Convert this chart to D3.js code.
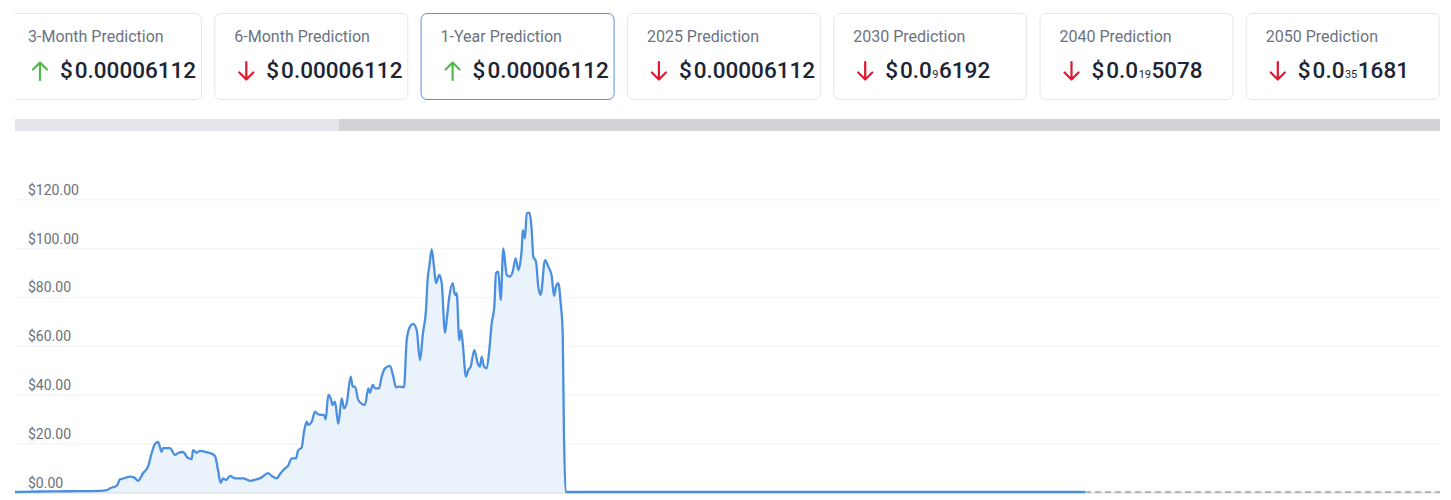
<!DOCTYPE html>
<html>
<head>
<meta charset="utf-8">
<script src="https://cdn.jsdelivr.net/npm/d3@7"></script>
<style>
  html, body { margin: 0; padding: 0; background: #ffffff; }
  svg { display: block; font-family: Roboto, "Noto Sans", sans-serif; }
</style>
</head>
<body>
<svg id="chart" width="1451" height="500"></svg>
<script>
// ---------- data ----------
const cardLabels = ["3-Month Prediction", "6-Month Prediction", "1-Year Prediction", "2025 Prediction", "2030 Prediction", "2040 Prediction", "2050 Prediction"];
const cardDirections = ["up", "down", "up", "down", "down", "down", "down"];
// {n} marks a subscript count of zeros
const cardValues = ["0.00006112", "0.00006112", "0.00006112", "0.00006112", "0.0{9}6192", "0.0{19}5078", "0.0{35}1681"];
const selectedCard = 2;

const yTicks = [0, 20, 40, 60, 80, 100, 120];

const startDate = new Date(2020, 9, 15);
const spanDays = 1425;

// [day offset from startDate, price USD]
const priceHistory = [
  [0,0.0],[25,0.2],[55,0.3],[85,0.5],[92,0.8],[95,1.5],[98,2.0],[101.7,2.5],[105,5.2],[108,5.5],
  [111.7,6.0],[115,6.3],[119,6.0],[123,4.6],[128,7.7],[133,10.4],[136.7,16.0],[140,19.7],[143,20.5],[146.7,16.5],
  [148,18.0],[155,18.0],[160,15.2],[163,16.0],[168,16.4],[173,13.9],[176.7,13.5],[178,17.2],[181.7,16.1],[185,16.9],
  [190,16.5],[195,16.0],[200,14.8],[203,9.0],[205.7,3.8],[208,5.6],[211,4.9],[215,6.6],[220,5.6],[228,5.6],
  [235,4.6],[241.7,5.2],[246.7,6.0],[253,7.7],[256.7,6.6],[261.7,5.6],[265,7.4],[270,9.7],[273,10.7],[276.7,13.8],
  [281,13.8],[283,16.9],[286.7,18.3],[289,24.7],[291.7,28.8],[293,27.5],[296.7,28.8],[300,32.9],[301.7,32.3],[305,31.6],
  [309,31.6],[310.7,29.8],[313.3,39.8],[315.7,38.4],[317.7,35.7],[320,37.0],[323.3,27.9],[326.7,38.4],[329,34.3],[331.7,36.4],
  [335.7,47.3],[337.7,43.2],[340,43.2],[343.3,37.7],[350,35.7],[353.3,42.5],[355,40.7],[357.7,43.9],[360,42.5],[364,42.5],
  [366.7,47.3],[370,50.7],[375,51.7],[378.3,47.3],[381,42.9],[384.3,43.2],[389,42.9],[391.7,62.3],[395,67.8],[398,68.9],
  [401.7,66.4],[405,54.1],[408,65.2],[411,74.6],[412.7,87.6],[414.3,92.4],[416.7,99.5],[419,92.4],[421,85.6],[424.3,89.0],
  [426.7,85.6],[430,65.3],[431.7,70.5],[434.3,80.1],[437.7,85.6],[440,80.8],[441.7,81.5],[444.3,62.3],[446,66.4],[447.7,61.0],
  [451,47.3],[453.3,50.0],[455.7,51.4],[459.3,58.2],[462.7,52.8],[465,51.4],[466.7,55.5],[469,51.4],[471.7,50.7],[474.3,58.2],
  [476.7,69.2],[479.3,76.0],[481,89.7],[483.3,90.3],[485.7,78.7],[488.3,99.9],[491.7,89.0],[495,88.3],[497.7,90.3],[500.7,95.8],
  [503.3,91.0],[506.7,99.2],[507.7,107.4],[510,104.0],[511.7,114.3],[514.3,114.5],[516.7,107.4],[518.3,96.5],[521,94.4],[523.3,84.2],
  [525.7,80.8],[530,95.1],[533.3,92.4],[536.7,88.6],[539,80.4],[541,84.2],[543.3,85.6],[545.7,77.4],[547.7,65.1],[549,22.7],
  [551,0.1],[552,0.0003],[800,0.0001],[1070,0.00006]
];
const pricePrediction = [[1070,0.00006],[1425,0.00006112]];

// ---------- layout ----------
const svg = d3.select("#chart");
const plotLeft = 15, plotRight = 1440, plotTop = 199.3, plotBottom = 492;

// cards
const cardX = d3.scaleLinear().domain([0, 1]).range([8, 214.3]);
const cardW = 193, cardTop = 13, cardH = 86;

svg.append("defs").append("clipPath").attr("id", "cardClip")
  .append("rect").attr("x", 15).attr("y", 0).attr("width", 1425).attr("height", 110);

const cardsG = svg.append("g").attr("clip-path", "url(#cardClip)");
const cards = cardsG.selectAll("g.card").data(cardLabels).join("g")
  .attr("class", "card")
  .attr("transform", (d, i) => `translate(${cardX(i)},${cardTop})`);

cards.append("rect")
  .attr("x", 0.5).attr("y", 0.5).attr("width", cardW).attr("height", cardH)
  .attr("rx", 6).attr("ry", 6)
  .attr("fill", "#ffffff")
  .attr("stroke", (d, i) => i === selectedCard ? "#5b8fd6" : "#e4e6ea")
  .attr("stroke-width", 1);

cards.append("text")
  .attr("x", 20).attr("y", 29)
  .attr("font-size", 16).attr("fill", "#6b7383")
  .text(d => d);

// arrows
cards.each(function(d, i) {
  const g = d3.select(this);
  const cx = 32, top = 49, bot = 67;
  const color = cardDirections[i] === "up" ? "#52b947" : "#e4162e";
  const path = cardDirections[i] === "up"
    ? `M${cx},${bot} L${cx},${top + 1} M${cx - 7},${top + 7.5} L${cx},${top + 0.5} L${cx + 7},${top + 7.5}`
    : `M${cx},${top} L${cx},${bot - 1} M${cx - 7},${bot - 7.5} L${cx},${bot - 0.5} L${cx + 7},${bot - 7.5}`;
  g.append("path").attr("d", path).attr("fill", "none")
    .attr("stroke", color).attr("stroke-width", 2.2).attr("stroke-linecap", "round").attr("stroke-linejoin", "round");

  const t = g.append("text").attr("x", 52).attr("y", 65)
    .attr("font-size", 22.5).attr("font-weight", 500).attr("fill", "#1c2536");
  t.append("tspan").text("$");
  const m = cardValues[i].match(/^([^{]*)(?:\{(\d+)\})?(.*)$/);
  t.append("tspan").attr("dx", 2).text(m[1]);
  if (m[2]) {
    t.append("tspan").attr("font-size", 11).attr("font-weight", 400).attr("dx", 0.5).text(m[2]);
    t.append("tspan").attr("dx", 0.5).text(m[3]);
  }
});

// scrollbar
svg.append("rect").attr("x", 15).attr("y", 119).attr("width", 1425).attr("height", 12).attr("fill", "#e4e5ea");
svg.append("rect").attr("x", 339).attr("y", 119).attr("width", 1101).attr("height", 12).attr("fill", "#d1d1d6");

// scales
const dayToDate = d => new Date(startDate.getTime() + d * 86400000);
const x = d3.scaleTime().domain([startDate, dayToDate(spanDays)]).range([plotLeft, plotRight]);
const y = d3.scaleLinear().domain([0, 120]).range([plotBottom, plotTop]);

// grid + y labels
const yAxis = d3.axisLeft(y).tickValues(yTicks)
  .tickSize(-(plotRight - plotLeft))
  .tickFormat(d => "$" + d3.format(".2f")(d));
const ga = svg.append("g").attr("transform", `translate(${plotLeft},0)`).call(yAxis);
ga.select(".domain").remove();
ga.selectAll(".tick line").attr("stroke", "#f1f2f4").attr("stroke-width", 1);
ga.selectAll(".tick text")
  .attr("x", 13).attr("dy", -5).attr("text-anchor", "start")
  .attr("font-size", 14).attr("fill", "#6b6f78")
  .attr("font-family", "Roboto, sans-serif");

// area + line
const pts = priceHistory.map(([d, v]) => ({ date: dayToDate(d), v }));
const area = d3.area().x(p => x(p.date)).y0(y(0)).y1(p => y(p.v)).curve(d3.curveMonotoneX);
const line = d3.line().x(p => x(p.date)).y(p => y(p.v)).curve(d3.curveMonotoneX);

svg.append("path").datum(pts).attr("d", area).attr("fill", "#eaf2fc");

// baseline axis
svg.append("line").attr("x1", plotLeft).attr("x2", plotRight)
  .attr("y1", y(0) + 1).attr("y2", y(0) + 1)
  .attr("stroke", "#d5d9e0").attr("stroke-width", 1.2);

svg.append("path").datum(pts).attr("d", line)
  .attr("fill", "none").attr("stroke", "#4a8fe0").attr("stroke-width", 2.3)
  .attr("stroke-linejoin", "round");

const predPts = pricePrediction.map(([d, v]) => ({ date: dayToDate(d), v }));
svg.append("path").datum(predPts).attr("d", d3.line().x(p => x(p.date)).y(p => y(p.v)))
  .attr("fill", "none").attr("stroke", "#a5a5a5").attr("stroke-width", 1.6)
  .attr("stroke-dasharray", "6,4");
</script>
</body>
</html>
